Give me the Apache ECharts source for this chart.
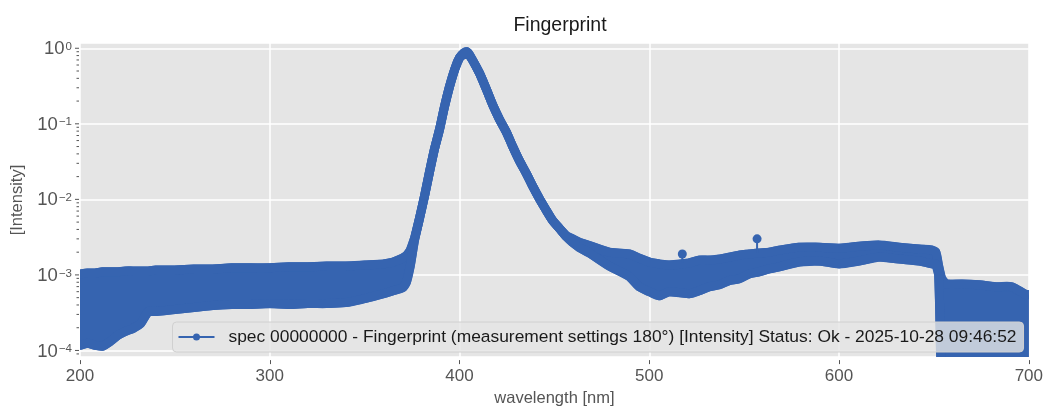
<!DOCTYPE html>
<html>
<head>
<meta charset="utf-8">
<script src="https://cdn.jsdelivr.net/npm/echarts@6/dist/echarts.min.js"></script>
<style>
html,body{margin:0;padding:0;background:#ffffff;}
#chart{width:1046px;height:412px;}
</style>
</head>
<body>
<div id="chart"></div>
<script>
// ---- data ----
const seriesName = 'spec 00000000 - Fingerprint (measurement settings 180°) [Intensity] Status: Ok - 2025-10-28 09:46:52';

// wavelength [nm] of the envelope samples
const wavelength = [200,204,208,212,216,220,224,228,232,236,240,250,260,270,280,290,300,310,320,330,340,350,360,365,370,372,374,
  376.3,378.9,381.6,384.2,386.8,389.5,392.1,394.7,397.4,400,403.7,406.8,410.5,414.2,417.4,421,424.7,427.9,431.6,435.3,438.4,
  442.1,445.8,448.9,452.6,456.3,459.5,463.2,468.4,478.9,489.5,494.7,500,505.3,510.5,521,526.3,531.6,536.8,542.1,547.4,552.6,
  557.9,563.2,568.4,578.9,589.5,600,610.5,621,631.6,642.1,649,651,652.5,654,656.3,664.7,673.7,682.6,691,698.4,700];

// upper edge of the noisy intensity band
const upperEnv = [1.03e-3,1.06e-3,1.06e-3,1.10e-3,1.10e-3,1.10e-3,1.13e-3,1.13e-3,1.13e-3,1.13e-3,1.16e-3,1.16e-3,1.20e-3,1.20e-3,
  1.24e-3,1.24e-3,1.24e-3,1.28e-3,1.28e-3,1.31e-3,1.31e-3,1.35e-3,1.40e-3,1.48e-3,1.67e-3,1.80e-3,2.1e-3,
  3.06e-3,5.6e-3,0.0112,0.0232,0.0464,0.085,0.17,0.31,0.52,0.75,0.9,0.70,0.47,0.284,0.18,0.115,0.0775,0.0508,0.0323,0.0218,0.0152,
  0.0102,7.1e-3,5.3e-3,4.14e-3,3.3e-3,3.0e-3,2.7e-3,2.45e-3,2.00e-3,1.89e-3,1.67e-3,1.48e-3,1.40e-3,1.35e-3,1.44e-3,1.57e-3,1.57e-3,
  1.62e-3,1.72e-3,1.83e-3,1.89e-3,1.95e-3,2.00e-3,2.13e-3,2.33e-3,2.33e-3,2.26e-3,2.40e-3,2.48e-3,2.33e-3,2.20e-3,2.13e-3,
  2.0e-3,1.3e-3,9.0e-4,7.6e-4,7.6e-4,7.4e-4,6.97e-4,6.97e-4,5.5e-4,5.5e-4];

// lower edge of the noisy intensity band
const lowerEnv = [1.17e-4,1.25e-4,1.17e-4,1.14e-4,1.32e-4,1.59e-4,1.79e-4,1.96e-4,2.28e-4,3.27e-4,3.27e-4,3.48e-4,3.70e-4,3.93e-4,
  4.05e-4,4.05e-4,4.17e-4,4.05e-4,4.17e-4,4.17e-4,4.30e-4,4.85e-4,5.64e-4,6.17e-4,6.76e-4,8.0e-4,1.3e-3,
  2.9e-3,5.6e-3,0.0112,0.0232,0.0464,0.085,0.17,0.31,0.52,0.75,0.9,0.70,0.47,0.284,0.18,0.115,0.0775,0.0508,0.0323,0.0218,0.0152,
  0.0102,7.1e-3,5.3e-3,4.14e-3,3.2e-3,2.7e-3,2.3e-3,1.95e-3,1.31e-3,9.5e-4,6.97e-4,6.0e-4,5.3e-4,6.0e-4,5.64e-4,6.17e-4,6.97e-4,
  7.4e-4,8.4e-4,8.9e-4,1.03e-3,1.10e-3,1.20e-3,1.28e-3,1.48e-3,1.53e-3,1.40e-3,1.53e-3,1.72e-3,1.62e-3,1.53e-3,1.40e-3,
  1.40e-3,1.0e-3,5e-5,5e-5,5e-5,5e-5,5e-5,5e-5,5e-5,5e-5];

// isolated outlier points sticking out of the band
const outlierWl = [517.4, 556.8];
const outlierVal = [1.89e-3, 3.0e-3];
const outlierBase = [1.45e-3, 1.95e-3];

// axes
const xTicks = [200, 300, 400, 500, 600, 700];
const yMajorTicks = [1e-4, 1e-3, 1e-2, 1e-1, 1];
const yTickExponents = [-4, -3, -2, -1, 0];
const yMinorTicks = [9e-5,
  2e-4,3e-4,4e-4,5e-4,6e-4,7e-4,8e-4,9e-4,
  2e-3,3e-3,4e-3,5e-3,6e-3,7e-3,8e-3,9e-3,
  2e-2,3e-2,4e-2,5e-2,6e-2,7e-2,8e-2,9e-2,
  2e-1,3e-1,4e-1,5e-1,6e-1,7e-1,8e-1,9e-1];

// ---- chart ----
const FONT = "'Liberation Sans', Arial, Helvetica, sans-serif";
const BLUE = '#3664b0';
const GRAY = '#555555';

const chart = echarts.init(document.getElementById('chart'), null, {renderer: 'canvas'});

const bandData = wavelength.map((w, i) => [w, upperEnv[i], lowerEnv[i]]);
const tickData = yMajorTicks.map(v => [xTicks[0], v, 1]).concat(yMinorTicks.map(v => [xTicks[0], v, 0]));

function yLabel(v) {
  for (let i = 0; i < yMajorTicks.length; i++) {
    if (Math.abs(v / yMajorTicks[i] - 1) < 1e-6) {
      const e = yTickExponents[i];
      return '{b|10}{s|' + (e < 0 ? '\u2212' + (-e) : String(e)) + '}';
    }
  }
  return '';
}

chart.setOption({
  animation: false,
  backgroundColor: '#ffffff',
  title: {
    text: 'Fingerprint',
    left: 555, top: 11, textAlign: 'center',
    textStyle: {fontFamily: FONT, fontSize: 19.5, fontWeight: 'normal', color: '#1a1a1a'}
  },
  legend: {
    data: [{name: seriesName,
      icon: 'path://M0,4 L36,4 L36,6 L0,6 Z M14.5,5 A3.5,3.5 0 1 1 21.5,5 A3.5,3.5 0 1 1 14.5,5 Z'}],
    left: 172.5, top: 322,
    itemWidth: 36, itemHeight: 7,
    padding: [6, 7, 6, 6],
    backgroundColor: 'rgba(229,229,229,0.8)',
    borderColor: '#d0d0d0', borderWidth: 1, borderRadius: 4,
    selectedMode: false,
    itemStyle: {color: BLUE},
    textStyle: {fontFamily: FONT, fontSize: 17.4, color: '#1a1a1a', lineHeight: 18, padding: [0, 0, 0, 9]}
  },
  grid: {
    left: 80, right: 16, top: 43, bottom: 52,
    show: true, backgroundColor: '#e5e5e5', borderWidth: 0
  },
  xAxis: {
    type: 'value', min: 200, max: 700, interval: 100,
    offset: 3,
    name: 'wavelength [nm]', nameLocation: 'middle', nameGap: 26,
    nameTextStyle: {fontFamily: FONT, fontSize: 16.5, color: GRAY},
    axisLine: {show: false},
    axisTick: {show: true, length: 4, lineStyle: {color: GRAY, width: 1}},
    axisLabel: {fontFamily: FONT, fontSize: 17, color: GRAY, margin: 8},
    splitLine: {show: true, lineStyle: {color: '#ffffff', width: 1.5}}
  },
  yAxis: {
    type: 'log', logBase: 10, min: 8.17e-5, max: 1.174,
    offset: 1,
    name: '[Intensity]', nameLocation: 'middle', nameGap: 42,
    nameTextStyle: {fontFamily: FONT, fontSize: 16.5, color: GRAY},
    axisLine: {show: false},
    axisTick: {show: false},
    axisLabel: {
      formatter: yLabel, margin: 7, padding: [3, 0, 0, 0],
      rich: {
        b: {fontFamily: FONT, fontSize: 18.5, color: GRAY, lineHeight: 18, verticalAlign: 'bottom'},
        s: {fontFamily: FONT, fontSize: 11.5, color: GRAY, lineHeight: 12, verticalAlign: 'top', padding: [0, 0, 12, 1]}
      }
    },
    splitLine: {show: true, lineStyle: {color: '#ffffff', width: 1.5}},
    minorSplitLine: {show: false}
  },
  series: [
    {
      type: 'custom',
      name: seriesName,
      clip: true,
      z: 2,
      itemStyle: {color: BLUE},
      data: bandData,
      encode: {x: 0, y: [1, 2]},
      renderItem: function (params, api) {
        if (params.dataIndex !== 0) return null;
        const up = [], lo = [];
        for (let i = 0; i < wavelength.length; i++) {
          up.push(api.coord([wavelength[i], upperEnv[i]]));
          lo.push(api.coord([wavelength[i], lowerEnv[i]]));
        }
        const children = [
          {type: 'polygon', shape: {points: up.concat(lo.slice().reverse())},
            style: {fill: BLUE, stroke: BLUE, lineWidth: 9, lineJoin: 'round'}},
          {type: 'polyline', shape: {points: up, smooth: 0.35},
            style: {fill: null, stroke: BLUE, lineWidth: 9, lineJoin: 'round', lineCap: 'round'}},
          {type: 'polyline', shape: {points: lo, smooth: 0.35},
            style: {fill: null, stroke: BLUE, lineWidth: 9, lineJoin: 'round', lineCap: 'round'}}
        ];
        for (let k = 0; k < outlierWl.length; k++) {
          const p = api.coord([outlierWl[k], outlierVal[k]]);
          const b = api.coord([outlierWl[k], outlierBase[k]]);
          children.push({type: 'line', shape: {x1: b[0], y1: b[1], x2: p[0], y2: p[1]}, style: {stroke: BLUE, lineWidth: 2}});
          children.push({type: 'circle', shape: {cx: p[0], cy: p[1], r: 4.5}, style: {fill: BLUE}});
        }
        const cs = params.coordSys;
        return {
          type: 'group', children: children,
          clipPath: {type: 'rect', shape: {x: cs.x, y: cs.y, width: cs.width, height: cs.height}}
        };
      }
    },
    {
      type: 'custom',
      name: 'yTicks',
      silent: true,
      clip: false,
      z: 3,
      data: tickData,
      encode: {x: 0, y: 1},
      renderItem: function (params, api) {
        const cs = params.coordSys;
        const y = api.coord([api.value(0), api.value(1)])[1];
        const len = api.value(2) ? 4 : 2.5;
        return {type: 'line', shape: {x1: cs.x - 1 - len, y1: y, x2: cs.x - 1, y2: y},
          style: {stroke: GRAY, lineWidth: 1}};
      }
    }
  ]
});
</script>
</body>
</html>
